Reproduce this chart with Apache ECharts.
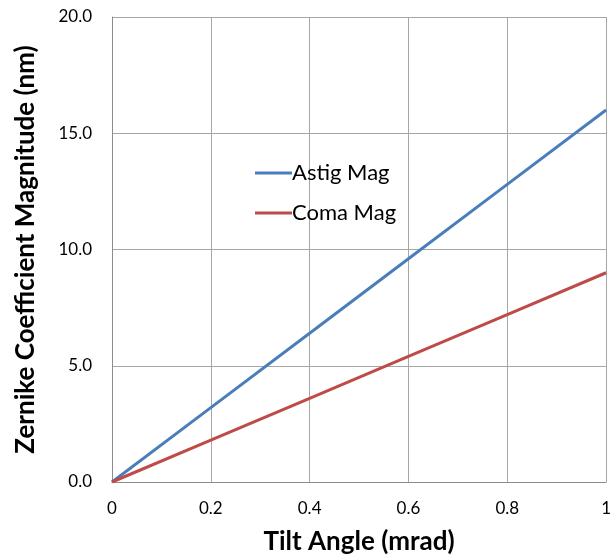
<!DOCTYPE html>
<html>
<head>
<meta charset="utf-8">
<script src="https://cdn.jsdelivr.net/npm/echarts@6/dist/echarts.min.js"></script>
<style>
  html, body { margin: 0; padding: 0; background: #fff; }
  #main { width: 614px; height: 560px; }
</style>
</head>
<body>
<div id="main"></div>
<script>
// tilt angle (mrad)
var tilt = [0, 0.2, 0.4, 0.6, 0.8, 1.0];
// magnitudes (nm)
var astigMag = [0, 3.2, 6.4, 9.6, 12.8, 16.0];
var comaMag = [0, 1.8, 3.6, 5.4, 7.2, 9.0];

function pairs(xs, ys) {
  return xs.map(function (x, i) { return [x, ys[i]]; });
}

var chart = echarts.init(document.getElementById('main'));
var font = 'Lato, "Open Sans", sans-serif';

var option = {
  backgroundColor: '#FFFFFF',
  animation: false,
  textStyle: { fontFamily: font },
  grid: { left: 112, right: 7, top: 17, bottom: 77 },
  legend: {
    orient: 'vertical',
    left: 250,
    top: 157,
    icon: 'rect',
    itemWidth: 37,
    itemHeight: 3,
    itemGap: 18,
    textStyle: { fontSize: 22, color: '#000', fontFamily: font, padding: [0, 0, 0, -5] },
    data: ['Astig Mag', 'Coma Mag']
  },
  xAxis: {
    type: 'value',
    min: 0,
    max: 1,
    interval: 0.2,
    name: 'Tilt Angle (mrad)',
    nameLocation: 'middle',
    nameGap: 47,
    nameTextStyle: { fontSize: 26, fontWeight: 'bold', color: '#000', fontFamily: font },
    axisLine: { lineStyle: { color: '#8c8c8c', width: 1 } },
    axisTick: { show: false },
    axisLabel: {
      fontSize: 17, color: '#000', margin: 18,
      formatter: function (v) { return v === 0 ? '0' : (v === 1 ? '1' : v.toFixed(1)); }
    },
    splitLine: { show: true, lineStyle: { color: '#a6a6a6', width: 1 } }
  },
  yAxis: {
    type: 'value',
    min: 0,
    max: 20,
    interval: 5,
    name: 'Zernike Coefficient Magnitude (nm)',
    nameLocation: 'middle',
    nameGap: 73,
    nameTextStyle: { fontSize: 26, fontWeight: 'bold', color: '#000', fontFamily: font },
    axisLine: { show: true, lineStyle: { color: '#8c8c8c', width: 1 } },
    axisTick: { show: false },
    axisLabel: {
      fontSize: 17, color: '#000', margin: 20,
      formatter: function (v) { return v.toFixed(1); }
    },
    splitLine: { show: true, lineStyle: { color: '#a6a6a6', width: 1 } }
  },
  series: [
    {
      name: 'Astig Mag',
      type: 'line',
      symbol: 'none',
      lineStyle: { color: '#4a7ebb', width: 3 },
      itemStyle: { color: '#4a7ebb' },
      data: pairs(tilt, astigMag)
    },
    {
      name: 'Coma Mag',
      type: 'line',
      symbol: 'none',
      lineStyle: { color: '#be4b48', width: 3 },
      itemStyle: { color: '#be4b48' },
      data: pairs(tilt, comaMag)
    }
  ]
};

chart.setOption(option);
</script>
</body>
</html>
